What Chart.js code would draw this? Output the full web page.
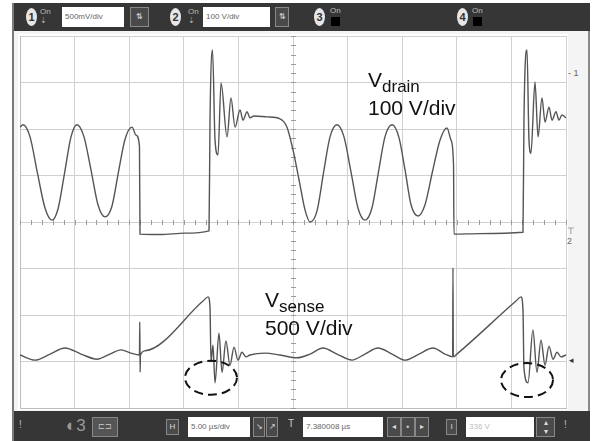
<!DOCTYPE html>
<html>
<head>
<meta charset="utf-8">
<script src="https://cdn.jsdelivr.net/npm/chart.js@4"></script>
<style>
  body { margin:0; width:592px; height:441px; background:#fff; position:relative; overflow:hidden; font-family:"Liberation Sans", Arial, sans-serif; }
  #scope { position:absolute; left:12px; top:3px; width:578px; height:438px; background:#f4f4f4; border-left:2px solid #7a7a7a; border-right:2px solid #8a8a8a; box-sizing:border-box; }
  .bar { position:absolute; left:14px; width:576px; background:#363636; }
  #topbar { top:3px; height:28px; }
  #botbar { top:411px; height:30px; }
  .chan { position:absolute; width:11px; height:18px; border-radius:50%; background:#e6e6e6; color:#333; font-size:11px; font-weight:bold; text-align:center; line-height:18px; }
  .box { position:absolute; background:#fff; color:#666; font-size:8px; line-height:20px; padding-left:3px; box-sizing:border-box; height:20px; white-space:nowrap; }
  .btn { position:absolute; background:#4a4a4a; border:1px solid #888; box-sizing:border-box; color:#ddd; font-size:8px; text-align:center; height:20px; line-height:18px; }
  .ico { position:absolute; color:#bbb; font-size:8px; line-height:9px; }
  .sq { position:absolute; width:9px; height:9px; background:#000; }
  #plot { position:absolute; left:18px; top:34px; width:550px; height:376px; background:#fff; }
  .label { position:absolute; font-size:21px; line-height:26px; color:#111; white-space:nowrap; }
  .label sub { font-size:17px; vertical-align:baseline; position:relative; top:5px; }
  .mark { position:absolute; color:#666; font-size:9px; line-height:10px; }
</style>
</head>
<body>
<div id="scope"></div>

<div class="bar" id="topbar"></div>
<div class="chan" style="left:26px;top:8px">1</div>
<div class="ico" style="left:40px;top:7px">On<br>⇣</div>
<div class="box" style="left:62px;top:7px;width:62px">500mV/div</div>
<div class="btn" style="left:130px;top:7px;width:19px">⇅</div>
<div class="chan" style="left:170px;top:8px">2</div>
<div class="ico" style="left:188px;top:7px">On<br>⇣</div>
<div class="box" style="left:203px;top:7px;width:67px">100 V/div</div>
<div class="btn" style="left:275px;top:7px;width:14px">⇅</div>
<div class="chan" style="left:314px;top:8px">3</div>
<div class="ico" style="left:330px;top:6px">On</div>
<div class="sq" style="left:331px;top:17px"></div>
<div class="chan" style="left:457px;top:8px">4</div>
<div class="ico" style="left:472px;top:6px">On</div>
<div class="sq" style="left:473px;top:17px"></div>

<div class="bar" id="botbar"></div>
<div class="ico" style="left:19px;top:420px;font-size:10px">!</div>
<div class="ico" style="left:66px;top:416px;font-size:17px;line-height:20px;color:#999">◐3</div>
<div class="btn" style="left:92px;top:417px;width:26px;background:#555;color:#bbb">⊏⊐</div>
<div class="btn" style="left:166px;top:419px;width:13px;height:16px;line-height:14px">H</div>
<div class="box" style="left:188px;top:417px;width:62px">5.00 µs/div</div>
<div class="btn" style="left:253px;top:417px;width:12px">↘</div>
<div class="btn" style="left:266px;top:417px;width:12px">↗</div>
<div class="ico" style="left:288px;top:419px;font-size:10px;color:#ccc">T</div>
<div class="box" style="left:303px;top:417px;width:80px">7.380008 µs</div>
<div class="btn" style="left:387px;top:417px;width:14px">◂</div>
<div class="btn" style="left:401px;top:417px;width:14px">▪</div>
<div class="btn" style="left:415px;top:417px;width:14px">▸</div>
<div class="btn" style="left:446px;top:419px;width:11px;height:16px;line-height:14px">I</div>
<div class="box" style="left:466px;top:417px;width:68px;color:#bbb">336 V</div>
<div class="btn" style="left:536px;top:417px;width:19px;line-height:9px">▴<br>▾</div>
<div class="ico" style="left:564px;top:420px;font-size:10px">!</div>

<div id="plot"><canvas id="scope-chart"></canvas></div>

<div class="mark" style="left:568px;top:68px">- 1</div>
<div class="mark" style="left:567px;top:226px">⊤<br>2</div>
<div class="mark" style="left:569px;top:355px;color:#333">◂</div>

<div class="label" style="left:368px;top:67px">V<sub>drain</sub><br>100 V/div</div>
<div class="label" style="left:265px;top:287px">V<sub>sense</sub><br>500 V/div</div>

<script>
// Time base: 5 µs/div, 10 divisions; vertical: 8 divisions (centre = 0)
const timeRange = [0, 50];
const divRange = [-4, 4];

// V drain trace (µs, divisions)
const drainTime = [0, 0.27, 0.92, 1.60, 2.29, 2.93, 3.48, 4.08, 4.67, 5.22, 5.86, 6.50, 7.14, 7.78,
  8.42, 9.02, 9.62, 10.26, 10.62, 10.94, 10.99, 12.82, 15.11, 17.31, 17.40, 17.63, 17.86, 18.13,
  18.41, 18.96, 19.32, 19.69, 20.15, 20.42, 20.79, 21.06, 21.43, 22.62, 23.81, 24.45, 25.00, 25.64,
  26.10, 26.56, 27.20, 27.79, 28.39, 29.03, 29.67, 30.31, 30.95, 31.59, 32.23, 32.83, 33.42, 34.07,
  34.71, 35.26, 35.81, 36.45, 37.09, 37.77, 38.46, 39.10, 39.47, 39.70, 39.74, 42.12, 46.06, 46.15,
  46.43, 46.61, 46.79, 47.16, 47.44, 47.80, 48.08, 48.44, 48.72, 49.08, 49.36, 49.63, 50.00];
const drainDiv = [2.04, 2.09, 1.83, 1.05, 0.30, 0.04, 0.28, 1.05, 1.83, 2.09, 1.83, 1.12, 0.37, 0.11,
  0.34, 1.08, 1.78, 2.04, 1.87, 1.63, -0.26, -0.27, -0.24, -0.19, 2.19, 3.70, 1.76, 1.44,
  2.99, 1.83, 2.67, 2.04, 2.41, 2.19, 2.37, 2.24, 2.28, 2.26, 2.22, 2.04, 1.55, 0.80,
  0.26, 0.00, 0.24, 1.05, 1.83, 2.09, 1.83, 1.08, 0.30, 0.04, 0.30, 1.08, 1.83, 2.09,
  1.81, 1.12, 0.37, 0.13, 0.37, 1.08, 1.76, 2.02, 1.76, 1.23, -0.26, -0.25, -0.22, 2.19,
  3.70, 1.76, 1.48, 3.01, 1.83, 2.67, 2.15, 2.47, 2.19, 2.37, 2.19, 2.30, 2.24];

// V sense trace (µs, divisions)
const senseTime = [0, 1.37, 2.75, 4.12, 5.59, 7.05, 8.24, 9.25, 10.16, 10.94, 10.97, 11.00, 11.03,
  11.45, 16.76, 17.22, 17.40, 17.49, 17.67, 17.86, 18.22, 18.50, 18.86, 19.23, 19.60, 19.96, 20.33,
  20.70, 21.06, 22.44, 23.81, 25.37, 26.56, 27.75, 29.03, 30.40, 31.59, 32.78, 34.07, 35.26, 36.54,
  37.82, 38.92, 39.62, 39.65, 39.68, 40.11, 45.42, 45.88, 46.06, 46.15, 46.52, 46.97, 47.34, 47.71,
  48.08, 48.44, 48.81, 49.18, 49.54, 50.00];
const senseDiv = [-2.86, -2.97, -2.84, -2.71, -2.84, -2.95, -2.84, -2.75, -2.82, -2.86, -2.15, -3.23, -2.86,
  -2.77, -1.70, -1.61, -1.83, -3.01, -2.65, -3.46, -2.39, -3.23, -2.56, -3.08, -2.69, -2.97, -2.80,
  -2.90, -2.86, -2.82, -2.86, -2.92, -2.84, -2.71, -2.84, -2.97, -2.84, -2.71, -2.84, -2.97, -2.84,
  -2.71, -2.84, -2.90, -0.99, -2.90, -2.82, -1.70, -1.61, -1.89, -3.14, -3.46, -2.32, -3.23, -2.54,
  -3.08, -2.67, -2.95, -2.80, -2.90, -2.86];

// Circled undershoots (centre, µs / divisions)
const circledTime = [17.49, 46.43];
const circledDiv = [-3.35, -3.40];

function toPoints(xs, ys) {
  return xs.map((x, i) => ({ x: x, y: ys[i] }));
}

// minor ticks on centre axes + dashed circles
const scopeDecor = {
  id: 'scopeDecor',
  beforeDatasetsDraw(chart) {
    const { ctx, scales: { x, y } } = chart;
    const cx = x.getPixelForValue(25);
    const cy = y.getPixelForValue(0);
    ctx.save();
    ctx.strokeStyle = '#9a9a9a';
    ctx.lineWidth = 1;
    ctx.beginPath();
    for (let t = timeRange[0]; t <= timeRange[1]; t += 1) {
      const px = Math.round(x.getPixelForValue(t)) + 0.5;
      ctx.moveTo(px, cy - 2);
      ctx.lineTo(px, cy + 3);
    }
    for (let d = divRange[0]; d <= divRange[1] + 0.001; d += 0.2) {
      const py = Math.round(y.getPixelForValue(d)) + 0.5;
      ctx.moveTo(cx - 2, py);
      ctx.lineTo(cx + 3, py);
    }
    ctx.stroke();
    ctx.restore();
  },
  afterDatasetsDraw(chart) {
    const { ctx, scales: { x, y } } = chart;
    ctx.save();
    ctx.strokeStyle = '#111';
    ctx.lineWidth = 2;
    ctx.setLineDash([9, 5]);
    circledTime.forEach((t, i) => {
      ctx.beginPath();
      ctx.ellipse(x.getPixelForValue(t), y.getPixelForValue(circledDiv[i]), 26, 17, 0, 0, Math.PI * 2);
      ctx.stroke();
    });
    ctx.restore();
  }
};

const traceStyle = {
  borderColor: '#555',
  borderWidth: 1.4,
  pointRadius: 0,
  fill: false,
  cubicInterpolationMode: 'monotone'
};

new Chart(document.getElementById('scope-chart'), {
  type: 'line',
  data: {
    datasets: [
      Object.assign({ label: 'V drain', data: toPoints(drainTime, drainDiv) }, traceStyle),
      Object.assign({ label: 'V sense', data: toPoints(senseTime, senseDiv) }, traceStyle)
    ]
  },
  options: {
    responsive: true,
    maintainAspectRatio: false,
    animation: false,
    layout: { padding: 2 },
    plugins: { legend: { display: false }, tooltip: { enabled: false } },
    scales: {
      x: {
        type: 'linear',
        min: timeRange[0],
        max: timeRange[1],
        ticks: { stepSize: 5, display: false },
        grid: { color: '#d0d0d0', drawTicks: false },
        border: { display: true, color: '#bdbdbd' }
      },
      y: {
        type: 'linear',
        min: divRange[0],
        max: divRange[1],
        ticks: { stepSize: 1, display: false },
        grid: { color: '#d0d0d0', drawTicks: false },
        border: { display: true, color: '#bdbdbd' }
      }
    }
  },
  plugins: [scopeDecor]
});
</script>
</body>
</html>
